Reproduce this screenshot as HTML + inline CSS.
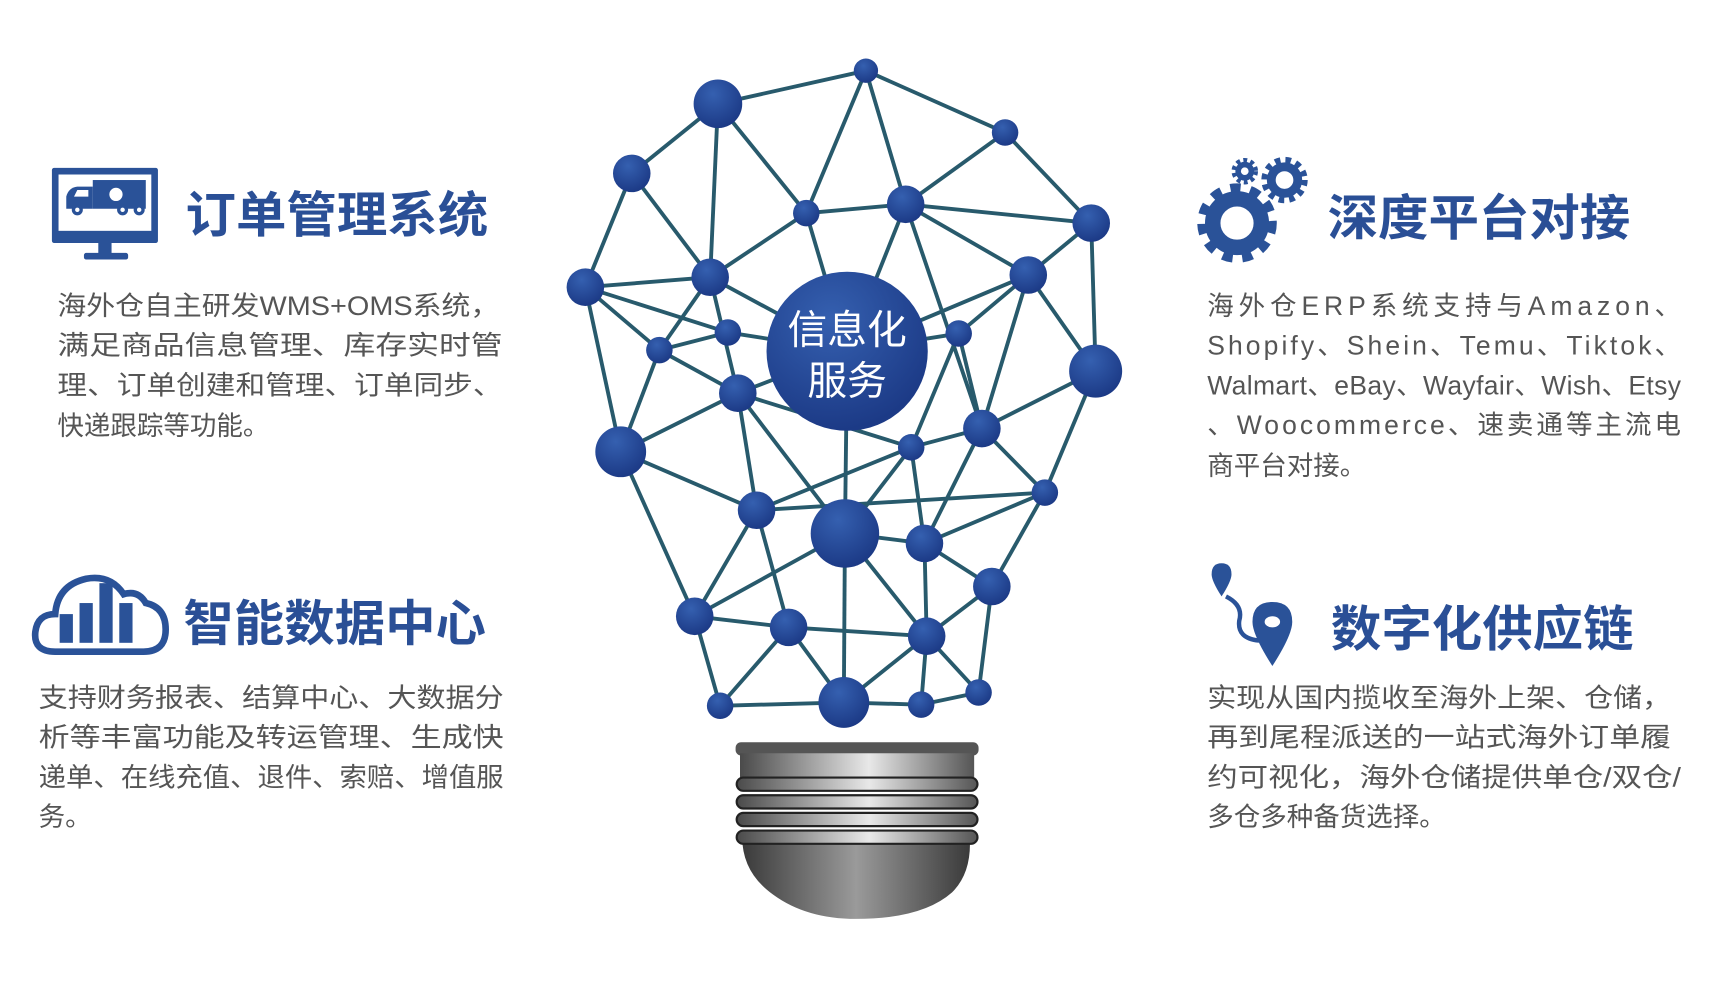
<!DOCTYPE html>
<html><head><meta charset="utf-8"><style>
html,body{margin:0;padding:0;background:#fff;}
svg{display:block;}
.t{font-family:"Liberation Sans","Noto Sans CJK SC",sans-serif;font-weight:bold;fill:#2a4f96;font-size:44px;}
.b{font-family:"Liberation Sans","Noto Sans CJK SC",sans-serif;fill:#555;font-size:24px;}
</style></head><body>
<svg width="1723" height="981" viewBox="0 0 1560 888.2" preserveAspectRatio="none" xmlns="http://www.w3.org/2000/svg">
<defs>
<radialGradient id="ng" cx="40%" cy="30%" r="70%"><stop offset="0" stop-color="#3560b0"/><stop offset="1" stop-color="#1c3a86"/></radialGradient>
<linearGradient id="mg" x1="0" x2="1" y1="0" y2="0"><stop offset="0" stop-color="#4a4a4a"/><stop offset="0.55" stop-color="#e8e8e8"/><stop offset="1" stop-color="#555"/></linearGradient>
<linearGradient id="mg2" x1="0" x2="1"><stop offset="0" stop-color="#3a3a3a"/><stop offset="0.5" stop-color="#9a9a9a"/><stop offset="1" stop-color="#3a3a3a"/></linearGradient>
</defs>
<g stroke="#285a6c" stroke-width="3.5">
<line x1="784" y1="64" x2="650" y2="94"/><line x1="784" y1="64" x2="730" y2="193"/><line x1="784" y1="64" x2="820" y2="185"/><line x1="784" y1="64" x2="910" y2="120"/>
<line x1="650" y1="94" x2="572" y2="157"/><line x1="650" y1="94" x2="643" y2="251"/><line x1="650" y1="94" x2="730" y2="193"/>
<line x1="910" y1="120" x2="820" y2="185"/><line x1="910" y1="120" x2="988" y2="202"/>
<line x1="572" y1="157" x2="530" y2="260"/><line x1="572" y1="157" x2="643" y2="251"/>
<line x1="730" y1="193" x2="643" y2="251"/><line x1="730" y1="193" x2="767" y2="318"/><line x1="730" y1="193" x2="820" y2="185"/>
<line x1="820" y1="185" x2="988" y2="202"/><line x1="820" y1="185" x2="931" y2="249"/><line x1="820" y1="185" x2="767" y2="318"/><line x1="820" y1="185" x2="889" y2="388"/>
<line x1="988" y1="202" x2="931" y2="249"/><line x1="988" y1="202" x2="992" y2="336"/>
<line x1="643" y1="251" x2="530" y2="260"/><line x1="643" y1="251" x2="767" y2="318"/><line x1="643" y1="251" x2="597" y2="317"/><line x1="643" y1="251" x2="668" y2="356"/>
<line x1="530" y1="260" x2="659" y2="301"/><line x1="530" y1="260" x2="597" y2="317"/><line x1="530" y1="260" x2="562" y2="409"/>
<line x1="931" y1="249" x2="868" y2="302"/><line x1="931" y1="249" x2="992" y2="336"/><line x1="931" y1="249" x2="889" y2="388"/><line x1="931" y1="249" x2="767" y2="318"/>
<line x1="659" y1="301" x2="767" y2="318"/><line x1="659" y1="301" x2="597" y2="317"/>
<line x1="597" y1="317" x2="668" y2="356"/><line x1="597" y1="317" x2="562" y2="409"/>
<line x1="868" y1="302" x2="767" y2="318"/><line x1="868" y1="302" x2="825" y2="405"/><line x1="868" y1="302" x2="889" y2="388"/>
<line x1="992" y1="336" x2="889" y2="388"/><line x1="992" y1="336" x2="946" y2="446"/>
<line x1="668" y1="356" x2="767" y2="318"/><line x1="668" y1="356" x2="562" y2="409"/><line x1="668" y1="356" x2="685" y2="462"/><line x1="668" y1="356" x2="765" y2="483"/><line x1="668" y1="356" x2="825" y2="405"/>
<line x1="562" y1="409" x2="685" y2="462"/><line x1="562" y1="409" x2="629" y2="558"/>
<line x1="889" y1="388" x2="825" y2="405"/><line x1="889" y1="388" x2="946" y2="446"/><line x1="889" y1="388" x2="837" y2="492"/>
<line x1="825" y1="405" x2="765" y2="483"/><line x1="825" y1="405" x2="837" y2="492"/><line x1="825" y1="405" x2="685" y2="462"/>
<line x1="946" y1="446" x2="685" y2="462"/><line x1="946" y1="446" x2="837" y2="492"/><line x1="946" y1="446" x2="898" y2="531"/>
<line x1="767" y1="318" x2="765" y2="483"/>
<line x1="685" y1="462" x2="714" y2="568"/><line x1="765" y1="483" x2="629" y2="558"/><line x1="765" y1="483" x2="764" y2="636"/><line x1="765" y1="483" x2="839" y2="576"/><line x1="765" y1="483" x2="837" y2="492"/>
<line x1="837" y1="492" x2="898" y2="531"/><line x1="837" y1="492" x2="839" y2="576"/>
<line x1="898" y1="531" x2="839" y2="576"/><line x1="898" y1="531" x2="886" y2="627"/>
<line x1="629" y1="558" x2="714" y2="568"/><line x1="629" y1="558" x2="652" y2="639"/><line x1="629" y1="558" x2="685" y2="462"/>
<line x1="714" y1="568" x2="839" y2="576"/><line x1="714" y1="568" x2="652" y2="639"/><line x1="714" y1="568" x2="764" y2="636"/>
<line x1="839" y1="576" x2="764" y2="636"/><line x1="839" y1="576" x2="834" y2="638"/><line x1="839" y1="576" x2="886" y2="627"/>
<line x1="652" y1="639" x2="764" y2="636"/><line x1="764" y1="636" x2="834" y2="638"/><line x1="834" y1="638" x2="886" y2="627"/>
</g>
<g fill="url(#ng)">
<circle cx="784" cy="64" r="11"/><circle cx="650" cy="94" r="22"/><circle cx="910" cy="120" r="12"/><circle cx="572" cy="157" r="17"/>
<circle cx="730" cy="193" r="12"/><circle cx="820" cy="185" r="17"/><circle cx="988" cy="202" r="17"/><circle cx="643" cy="251" r="17"/>
<circle cx="530" cy="260" r="17"/><circle cx="931" cy="249" r="17"/><circle cx="659" cy="301" r="12"/><circle cx="597" cy="317" r="12"/>
<circle cx="868" cy="302" r="12"/><circle cx="992" cy="336" r="24"/><circle cx="668" cy="356" r="17"/><circle cx="562" cy="409" r="23"/>
<circle cx="889" cy="388" r="17"/><circle cx="825" cy="405" r="12"/><circle cx="946" cy="446" r="12"/><circle cx="685" cy="462" r="17"/>
<circle cx="765" cy="483" r="31"/><circle cx="837" cy="492" r="17"/><circle cx="898" cy="531" r="17"/><circle cx="629" cy="558" r="17"/>
<circle cx="714" cy="568" r="17"/><circle cx="839" cy="576" r="17"/><circle cx="652" cy="639" r="12"/><circle cx="764" cy="636" r="23"/>
<circle cx="834" cy="638" r="12"/><circle cx="886" cy="627" r="12"/>
<ellipse cx="767" cy="318" rx="73" ry="72"/>
</g>
<text x="767" y="311" text-anchor="middle" font-family="Liberation Sans,Noto Sans CJK SC,sans-serif" font-size="36" fill="#fff">信息化</text>
<text x="767" y="357" text-anchor="middle" font-family="Liberation Sans,Noto Sans CJK SC,sans-serif" font-size="36" fill="#fff">服务</text>
<!-- bulb base -->
<path d="M672 758 Q672 790 700 810 Q730 832 775 832 Q835 832 862 808 Q880 790 878 758 Z" fill="url(#mg2)"/>
<rect x="666" y="672" width="220" height="12" rx="5" fill="#555"/>
<rect x="670" y="682" width="212" height="22" fill="url(#mg)"/>
<g fill="url(#mg)" stroke="#222" stroke-width="2">
<rect x="667" y="704" width="218" height="12" rx="6"/>
<rect x="667" y="720" width="218" height="12" rx="6"/>
<rect x="667" y="736" width="218" height="12" rx="6"/>
<rect x="667" y="752" width="218" height="12" rx="6"/>
</g>
<!-- monitor icon -->
<g fill="#2a5298">
<rect x="47" y="152" width="96" height="68" rx="2"/>
<rect x="53" y="158" width="84" height="51" fill="#fff"/>
<rect x="89" y="220" width="12" height="10"/><rect x="76" y="229" width="40" height="6" rx="2"/>
<rect x="84" y="163" width="48" height="26"/>
<path d="M60 189 L60 178 Q62 170 70 169 L84 169 L84 189 Z"/>
<circle cx="70" cy="190" r="5"/><circle cx="111" cy="190" r="5"/><circle cx="126" cy="190" r="5"/>
</g>
<g fill="#fff"><circle cx="70" cy="190" r="2"/><circle cx="111" cy="190" r="2"/><circle cx="126" cy="190" r="2"/><path d="M67 178 L70 172 L80 172 L80 178 Z"/><circle cx="105" cy="176" r="6"/></g>
<!-- cloud icon -->
<path d="M50 590 Q30 590 32 572 Q34 556 50 556 Q52 530 78 524 Q100 520 112 538 Q125 534 132 546 Q150 550 150 570 Q150 590 130 590 Z" fill="none" stroke="#2a5298" stroke-width="6"/>
<g fill="#2a5298"><rect x="54" y="556" width="12" height="26"/><rect x="72" y="546" width="12" height="36"/><rect x="90" y="528" width="12" height="54"/><rect x="108" y="546" width="12" height="36"/></g>
<!-- gears -->
<g fill="none" stroke="#2a5298">
<circle cx="1120" cy="202" r="22" stroke-width="14"/>
<circle cx="1120" cy="202" r="31" stroke-width="10" stroke-dasharray="9 8.5"/>
<circle cx="1163" cy="163" r="12" stroke-width="8"/>
<circle cx="1163" cy="163" r="18" stroke-width="6" stroke-dasharray="5 4.5"/>
<circle cx="1127" cy="155" r="6" stroke-width="5"/>
<circle cx="1127" cy="155" r="10" stroke-width="4" stroke-dasharray="3.5 3"/>
</g>
<!-- pins -->
<path d="M1106 510 Q1097 510 1097 520 Q1097 526 1106 540 Q1115 526 1115 520 Q1115 510 1106 510 Z" fill="#2a5298"/>
<path d="M1110 540 Q1126 548 1122 562 Q1120 578 1140 580" fill="none" stroke="#2a5298" stroke-width="4"/>
<path d="M1152 545 Q1134 545 1134 563 Q1134 575 1152 603 Q1170 575 1170 563 Q1170 545 1152 545 Z" fill="#2a5298"/>
<ellipse cx="1152" cy="563" rx="7" ry="5" fill="#fff"/>
<!-- titles -->
<text class="t" x="168" y="210" textLength="274" lengthAdjust="spacingAndGlyphs">订单管理系统</text>
<text class="t" x="166" y="580" textLength="274" lengthAdjust="spacingAndGlyphs">智能数据中心</text>
<text class="t" x="1202" y="213" textLength="274" lengthAdjust="spacingAndGlyphs">深度平台对接</text>
<text class="t" x="1205" y="585" textLength="274" lengthAdjust="spacingAndGlyphs">数字化供应链</text>
<!-- bodies -->
<g class="b">
<text x="52" y="285" textLength="400" lengthAdjust="spacingAndGlyphs">海外仓自主研发WMS+OMS系统，</text>
<text x="52" y="321" textLength="403" lengthAdjust="spacingAndGlyphs">满足商品信息管理、库存实时管</text>
<text x="52" y="357" textLength="403" lengthAdjust="spacingAndGlyphs">理、订单创建和管理、订单同步、</text>
<text x="52" y="394">快递跟踪等功能。</text>
<text x="35" y="640" textLength="421" lengthAdjust="spacingAndGlyphs">支持财务报表、结算中心、大数据分</text>
<text x="35" y="676" textLength="421" lengthAdjust="spacingAndGlyphs">析等丰富功能及转运管理、生成快</text>
<text x="35" y="712" textLength="421" lengthAdjust="spacingAndGlyphs">递单、在线充值、退件、索赔、增值服</text>
<text x="35" y="748">务。</text>
<text x="1093" y="285" textLength="429" lengthAdjust="spacing">海外仓ERP系统支持与Amazon、</text>
<text x="1093" y="321" textLength="429" lengthAdjust="spacing">Shopify、Shein、Temu、Tiktok、</text>
<text x="1093" y="357" textLength="429" lengthAdjust="spacing">Walmart、eBay、Wayfair、Wish、Etsy</text>
<text x="1093" y="393" textLength="429" lengthAdjust="spacing">、Woocommerce、速卖通等主流电</text>
<text x="1093" y="430">商平台对接。</text>
<text x="1093" y="640" textLength="420" lengthAdjust="spacingAndGlyphs">实现从国内揽收至海外上架、仓储，</text>
<text x="1093" y="676" textLength="420" lengthAdjust="spacingAndGlyphs">再到尾程派送的一站式海外订单履</text>
<text x="1093" y="712" textLength="429" lengthAdjust="spacingAndGlyphs">约可视化，海外仓储提供单仓/双仓/</text>
<text x="1093" y="748">多仓多种备货选择。</text>
</g>
</svg>
</body></html>
